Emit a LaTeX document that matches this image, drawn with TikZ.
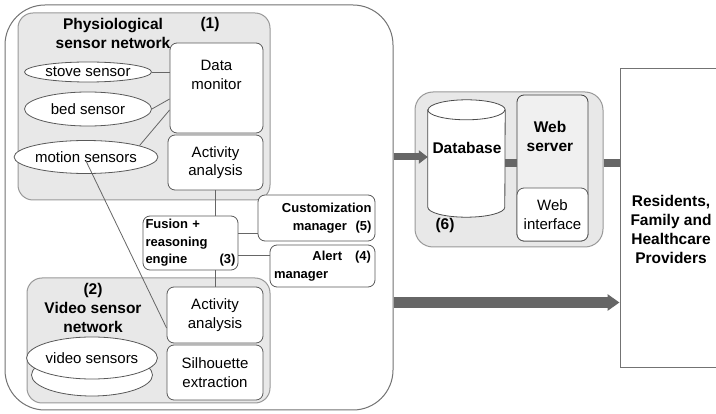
\documentclass[tikz,border=0pt]{standalone}
\usepackage{fontspec}
\setmainfont{Liberation Sans}
\usetikzlibrary{arrows.meta,shapes.geometric}

\begin{document}
\begin{tikzpicture}[x=1pt,y=-1pt]
	\tikzstyle{every node}=[inner sep=1pt, align=center, font=\fontsize{15}{18.5}\selectfont]
	\tikzstyle{zone}=[draw=black!40, fill=black!9, rounded corners=15pt, line width=1pt, inner sep=0pt]
	\tikzstyle{unit}=[draw=black!65, fill=white, rounded corners=7pt, line width=0.8pt, inner sep=0pt]
	\tikzstyle{sensor}=[ellipse, draw=black!65, fill=white, line width=0.8pt, inner sep=0pt]
	\tikzstyle{title}=[font=\bfseries\fontsize{15.5}{19}\selectfont]
	\tikzstyle{small}=[font=\bfseries\fontsize{13}{17.5}\selectfont]
	\tikzstyle{link}=[draw=black!60, line width=0.8pt]
	\tikzstyle{bar}=[draw=black!60, line width=8pt]
	\clip (0,0) rectangle (716,414);
	\fill[white] (0,0) rectangle (716,414);

	% outer frame
	\node[draw=black!55, line width=1pt, rounded corners=40pt, minimum width=388pt, minimum height=405pt] (frame) at (199,207.5) {};

	% physiological sensor network (1)
	\node[zone, minimum width=252pt, minimum height=187pt] (physzone) at (144,106.5) {};
	\node[title] (physname) at (113,33) {Physiological\\sensor network};
	\node[title] (one) at (210,24) {(1)};
	\node[unit, minimum width=93pt, minimum height=90pt] (monitor) at (216.5,88) {Data\\monitor\\[8pt]};
	\node[unit, minimum width=95pt, minimum height=55pt] (act1) at (215.5,162.5) {Activity\\analysis};
	\node[sensor, minimum width=127pt, minimum height=20pt] (stove) at (88,72) {stove sensor};
	\node[sensor, minimum width=127pt, minimum height=34pt] (bed) at (88,109) {bed sensor};
	\node[sensor, minimum width=128pt, minimum height=33pt] (motion) at (86,157) {motion sensors};
	\draw[link] (stove.east) -- (stove.east -| monitor.west);
	\draw[link] (bed.east) -- ([yshift=-11pt]monitor.west);
	\draw[link] (motion.12) -- ([yshift=-22pt]monitor.west);

	% video sensor network (2)
	\node[zone, minimum width=243pt, minimum height=125pt] (vidzone) at (148.5,340.5) {};
	\node[title] (vidname) at (93,308) {(2)\\Video sensor\\network};
	\node[unit, minimum width=96pt, minimum height=56pt] (act2) at (215,315) {Activity\\analysis};
	\node[unit, minimum width=96pt, minimum height=55pt] (silh) at (215,372.5) {Silhouette\\extraction};
	\node[sensor, minimum width=121pt, minimum height=42pt] (cams2) at (92,375) {};
	\node[sensor, minimum width=121pt, minimum height=42pt] (cams) at (92,358) {video sensors};
	\draw[link] ([yshift=-4pt]motion.center) -- ([yshift=-13pt]act2.west);

	% fusion and managers
	\node[unit, small, minimum width=95pt, minimum height=54pt, text width=90pt, align=left] (fusion) at (190.5,243) {Fusion +\\reasoning\\engine\hfill(3)};
	\node[unit, small, minimum width=117pt, minimum height=46pt, text width=110pt, align=right] (custom) at (316.5,218) {Customization\hspace*{6pt}\\manager\ \ (5)};
	\node[unit, small, minimum width=105pt, minimum height=42pt, text width=97pt, align=left] (alert) at (322.5,266) {\hfill Alert\ \ \ (4)\\manager};
	\draw[link] (act1.south) -- (act1.south |- fusion.north);
	\draw[link] (act2.north |- fusion.south) -- (act2.north);
	\coordinate (f5) at ([yshift=10pt]fusion.east);
	\coordinate (f4) at ([yshift=-12pt]fusion.east);
	\draw[link] (f5) -- (f5 -| custom.west);
	\draw[link] (f4) -- (f4 -| alert.west);

	% storage and web (6)
	\node[zone, rounded corners=18pt, minimum width=188pt, minimum height=155pt] (webzone) at (509,169.5) {};
	\node[inner sep=0pt, minimum width=77pt, minimum height=117pt] (db) at (466.5,158.5) {};
	\filldraw[draw=black!70, fill=white, line width=0.8pt] ([yshift=-10pt]db.north west) -- ([yshift=10pt]db.south west)
		arc[start angle=180, end angle=360, x radius=38.5pt, y radius=10pt] -- ([yshift=-10pt]db.north east)
		arc[start angle=0, end angle=180, x radius=38.5pt, y radius=10pt] -- cycle;
	\draw[draw=black!70, line width=0.8pt] ([yshift=-10pt]db.north west) arc[start angle=180, end angle=360, x radius=38.5pt, y radius=10pt];
	\node[title] (dbname) at (467,148) {Database};
	\node[title] (six) at (445,225) {(6)};
	\node[unit, fill=black!6, draw=black!75, minimum width=71pt, minimum height=146pt] (websrv) at (552.5,168) {};
	\node[title] (webname) at (550,136) {Web\\server};
	\node[unit, minimum width=71pt, minimum height=53pt] (webui) at (552.5,214.5) {Web\\interface};

	% users
	\node[draw=black!55, line width=1pt, minimum width=130pt, minimum height=299pt] (users) at (685,218.5) {};
	\node[title] (people) at (671,229) {Residents,\\Family and\\Healthcare\\Providers};

	% data flow
	\coordinate (a1) at ([yshift=1.5pt]frame.east |- db.west);
	\draw[draw=black!60, line width=7pt, -{Triangle[length=9pt, width=13pt]}] (a1) -- (a1 -| db.west);
	\coordinate (b1) at ([yshift=-4.5pt]db.east);
	\draw[bar] (b1) -- (b1 -| websrv.west);
	\coordinate (b2) at ([yshift=6.5pt]webzone.east);
	\draw[bar] (b2) -- (b2 -| users.west);
	\coordinate (a2) at ([yshift=-95pt]frame.east);
	\draw[draw=black!60, line width=11pt, -{Triangle[length=12pt, width=16pt]}] (a2) -- (a2 -| users.west);
\end{tikzpicture}
\end{document}
